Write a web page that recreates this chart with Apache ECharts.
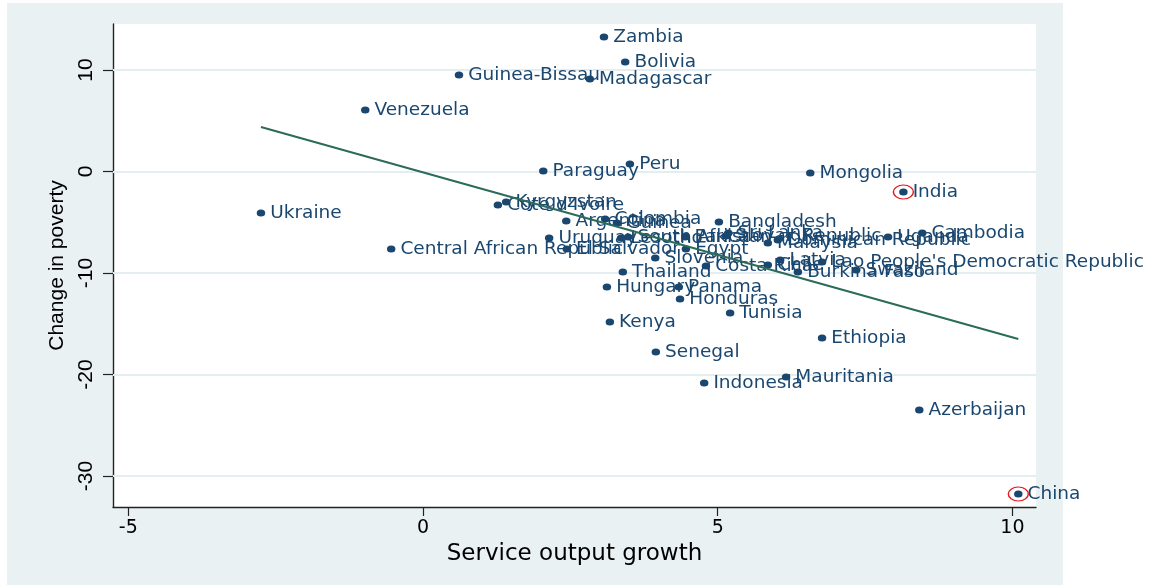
<!DOCTYPE html>
<html>
<head>
<meta charset="utf-8">
<script src="https://cdn.jsdelivr.net/npm/echarts@6/dist/echarts.min.js"></script>
<style>
  html, body { margin: 0; padding: 0; background: #ffffff; }
  #chart { width: 1161px; height: 585px; }
</style>
</head>
<body>
<div id="chart"></div>
<script>
// Country observations: service output growth vs. change in poverty
const countries = [
  'Zambia', 'Bolivia', 'Guinea-Bissau', 'Madagascar', 'Venezuela', 'Peru', 'Paraguay',
  'Mongolia', 'India', 'Ukraine', 'Kyrgyzstan', "Cote d'Ivoire", 'Argentina', 'Colombia',
  'Guinea', 'Bangladesh', 'Sri Lanka', 'Slovak Republic', 'Cambodia', 'Uganda', 'Uruguay',
  'Lesotho', 'South Africa', 'Pakistan', 'Malaysia', 'Dominican Republic',
  'Central African Republic', 'El Salvador', 'Egypt', 'Slovenia', 'Costa Rica', 'Chile',
  'Latvia', "Lao People's Democratic Republic", 'Burkina Faso', 'Swaziland', 'Thailand',
  'Hungary', 'Panama', 'Honduras', 'Tunisia', 'Kenya', 'Ethiopia', 'Senegal', 'Indonesia',
  'Mauritania', 'Azerbaijan', 'China'
];
const serviceGrowth = [
  3.07, 3.43, 0.61, 2.83, -0.98, 3.51, 2.04,
  6.57, 8.15, -2.75, 1.41, 1.27, 2.43, 3.09,
  3.29, 5.02, 5.18, 5.14, 8.47, 7.89, 2.14,
  3.36, 3.48, 4.45, 5.85, 6.02,
  -0.54, 2.44, 4.46, 3.94, 4.80, 5.85,
  6.06, 6.77, 6.36, 7.35, 3.39,
  3.12, 4.34, 4.36, 5.21, 3.17, 6.77, 3.95, 4.77,
  6.16, 8.42, 10.10
];
const povertyChange = [
  13.25, 10.79, 9.51, 9.11, 6.06, 0.74, 0.05,
  -0.15, -2.02, -4.09, -3.00, -3.30, -4.88, -4.68,
  -5.07, -4.98, -6.06, -6.35, -6.06, -6.45, -6.55,
  -6.55, -6.45, -6.45, -7.04, -6.75,
  -7.64, -7.64, -7.64, -8.52, -9.31, -9.21,
  -8.72, -8.92, -9.90, -9.70, -9.90,
  -11.38, -11.38, -12.56, -13.94, -14.83, -16.40, -17.78, -20.84,
  -20.25, -23.50, -31.77
];

// Countries marked with a red ring
const circled = ['India', 'China'];

// Linear fit endpoints
const fitX = [-2.75, 10.10];
const fitY = [4.38, -16.50];

// Axis ticks
const xTicks = [-5, 0, 5, 10];
const yTicks = [10, 0, -10, -20, -30];

const points = countries.map((c, i) => ({ name: c, value: [serviceGrowth[i], povertyChange[i]] }));
const ringed = circled.map(c => {
  const i = countries.indexOf(c);
  return { name: c, value: [serviceGrowth[i], povertyChange[i]] };
});

const navy = '#1a476f';
const chart = echarts.init(document.getElementById('chart'), null, { renderer: 'canvas' });

chart.setOption({
  animation: false,
  graphic: {
    elements: [{
      type: 'rect',
      z: -10,
      silent: true,
      shape: { x: 7, y: 3, width: 1056, height: 582 },
      style: { fill: '#e9f1f3' }
    }]
  },
  grid: {
    left: 113, right: 125, top: 24, bottom: 78,
    show: true, backgroundColor: '#ffffff', borderWidth: 0
  },
  xAxis: {
    type: 'value',
    min: -5.26, max: 10.40,
    name: 'Service output growth',
    nameLocation: 'middle',
    nameGap: 32,
    nameTextStyle: { fontFamily: 'DejaVu Sans', fontSize: 23, color: '#000' },
    axisLine: { show: true, onZero: false, lineStyle: { color: '#222', width: 1.4 } },
    axisTick: { show: true, customValues: xTicks, length: 9, lineStyle: { color: '#222', width: 1.2 } },
    axisLabel: {
      customValues: xTicks, margin: 12,
      fontFamily: 'DejaVu Sans', fontSize: 19, color: '#000'
    },
    splitLine: { show: false }
  },
  yAxis: {
    type: 'value',
    min: -33.05, max: 14.53,
    name: 'Change in poverty',
    nameLocation: 'middle',
    nameGap: 40,
    nameRotate: 90,
    nameTextStyle: { fontFamily: 'Liberation Sans', fontSize: 21, color: '#000' },
    axisLine: { show: true, onZero: false, lineStyle: { color: '#222', width: 1.4 } },
    axisTick: { show: true, customValues: yTicks, length: 10, lineStyle: { color: '#222', width: 1.2 } },
    axisLabel: {
      customValues: yTicks, rotate: 90, margin: 16,
      fontFamily: 'Liberation Sans', fontSize: 21, color: '#000'
    },
    splitLine: { show: false }
  },
  series: [
    {
      type: 'scatter',
      z: 3,
      symbol: 'circle',
      symbolSize: [8.5, 7],
      itemStyle: { color: navy, opacity: 1 },
      label: {
        show: true,
        position: 'right',
        distance: 5,
        formatter: p => p.name,
        fontFamily: 'DejaVu Sans',
        fontSize: 18.5,
        color: navy
      },
      labelLayout: { hideOverlap: false },
      data: points
    },
    {
      type: 'scatter',
      z: 4,
      symbol: 'circle',
      symbolSize: [20, 14],
      itemStyle: { color: 'rgba(0,0,0,0)', borderColor: '#e8141c', borderWidth: 1.2, opacity: 1 },
      silent: true,
      data: ringed
    },
    {
      type: 'line',
      z: 5,
      symbol: 'none',
      silent: true,
      lineStyle: { color: '#2b6b5a', width: 2 },
      data: fitX.map((x, i) => [x, fitY[i]]),
      markLine: {
        silent: true,
        symbol: 'none',
        label: { show: false },
        lineStyle: { color: '#e4edf0', width: 2, type: 'solid' },
        z: 1,
        data: yTicks.map(v => ({ yAxis: v }))
      }
    }
  ]
});
</script>
</body>
</html>
